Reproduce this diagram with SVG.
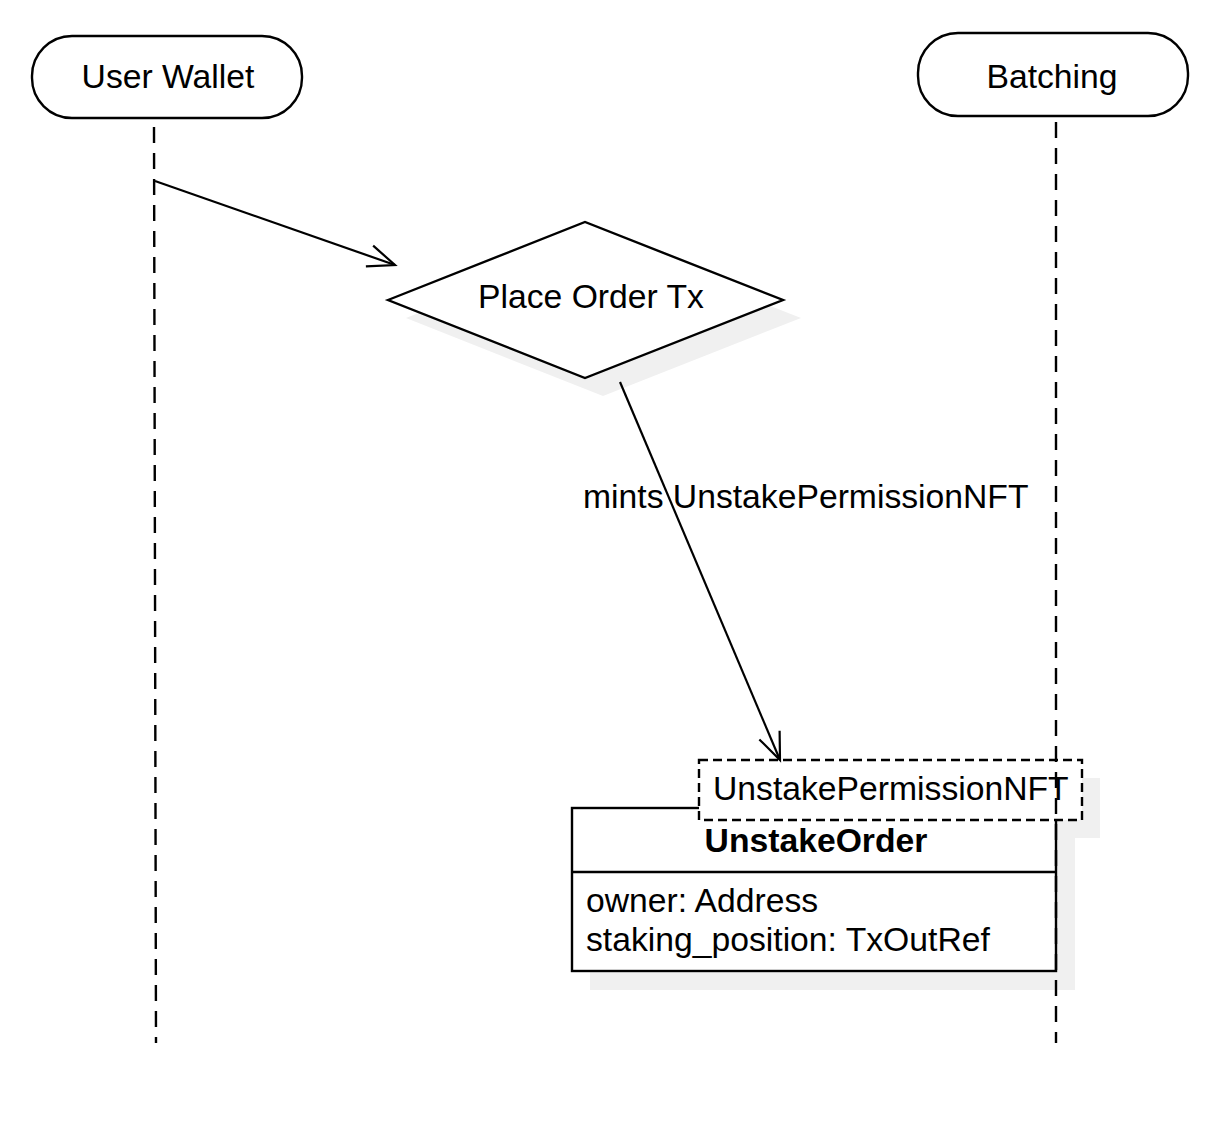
<svg xmlns="http://www.w3.org/2000/svg" width="1224" height="1136" viewBox="0 0 1224 1136">
<defs>
<style>
text{font-family:"Liberation Sans",Arial,sans-serif;font-size:33.7px;fill:#000}
.b{font-weight:bold}
.node{fill:#fff;stroke:#000;stroke-width:2.4}
.sh{fill:#f0f0f0;stroke:none}
.life{fill:none;stroke:#000;stroke-width:2.4;stroke-dasharray:16 10}
.conn{fill:none;stroke:#000;stroke-width:2.2}
</style>
<marker id="open" markerUnits="userSpaceOnUse" markerWidth="40" markerHeight="30" viewBox="-30 -15 40 30" refX="0" refY="0" orient="auto">
<path d="M-27,-11 L0,0 L-27,11" fill="none" stroke="#000" stroke-width="2.2"/>
</marker>
</defs>
<rect width="1224" height="1136" fill="#fff"/>
<g id="shadows">
<polygon class="sh" points="406,318 603,240 801,318 603,396"/>
<rect class="sh" x="590" y="826" width="485" height="164"/>
<rect class="sh" x="717" y="778" width="383" height="60"/>
</g>
<g id="user-wallet">
<rect class="node" x="32" y="36" width="270" height="82" rx="40" ry="40"/>
<text x="168" y="88" text-anchor="middle">User Wallet</text>
</g>
<g id="batching">
<rect class="node" x="918" y="33" width="270" height="83" rx="40" ry="40"/>
<text x="1052" y="88" text-anchor="middle">Batching</text>
</g>
<g id="place-order-tx">
<polygon class="node" points="388,300 585,222 783,300 585,378"/>
<text x="591" y="308" text-anchor="middle">Place Order Tx</text>
</g>
<g id="unstake-order">
<rect class="node" x="572" y="808" width="484" height="163"/>
<line x1="572" y1="872" x2="1056" y2="872" stroke="#000" stroke-width="2.4"/>
<text class="b" x="816" y="852" text-anchor="middle">UnstakeOrder</text>
<text x="586" y="912">owner: Address</text>
<text x="586" y="951">staking_position: TxOutRef</text>
</g>
<g id="unstake-permission-nft">
<rect class="node" x="699" y="760" width="383" height="60" stroke-dasharray="9 5"/>
<text x="713" y="800">UnstakePermissionNFT</text>
</g>
<g id="labels">
<text x="583" y="508">mints UnstakePermissionNFT</text>
</g>
<g id="connectors">
<line class="life" x1="154" y1="127" x2="156" y2="1043"/>
<line class="life" x1="1056" y1="122" x2="1056" y2="1043"/>
<line class="conn" x1="155" y1="181" x2="395" y2="265" marker-end="url(#open)"/>
<line class="conn" x1="620" y1="382" x2="780" y2="760" marker-end="url(#open)"/>
</g>
</svg>
